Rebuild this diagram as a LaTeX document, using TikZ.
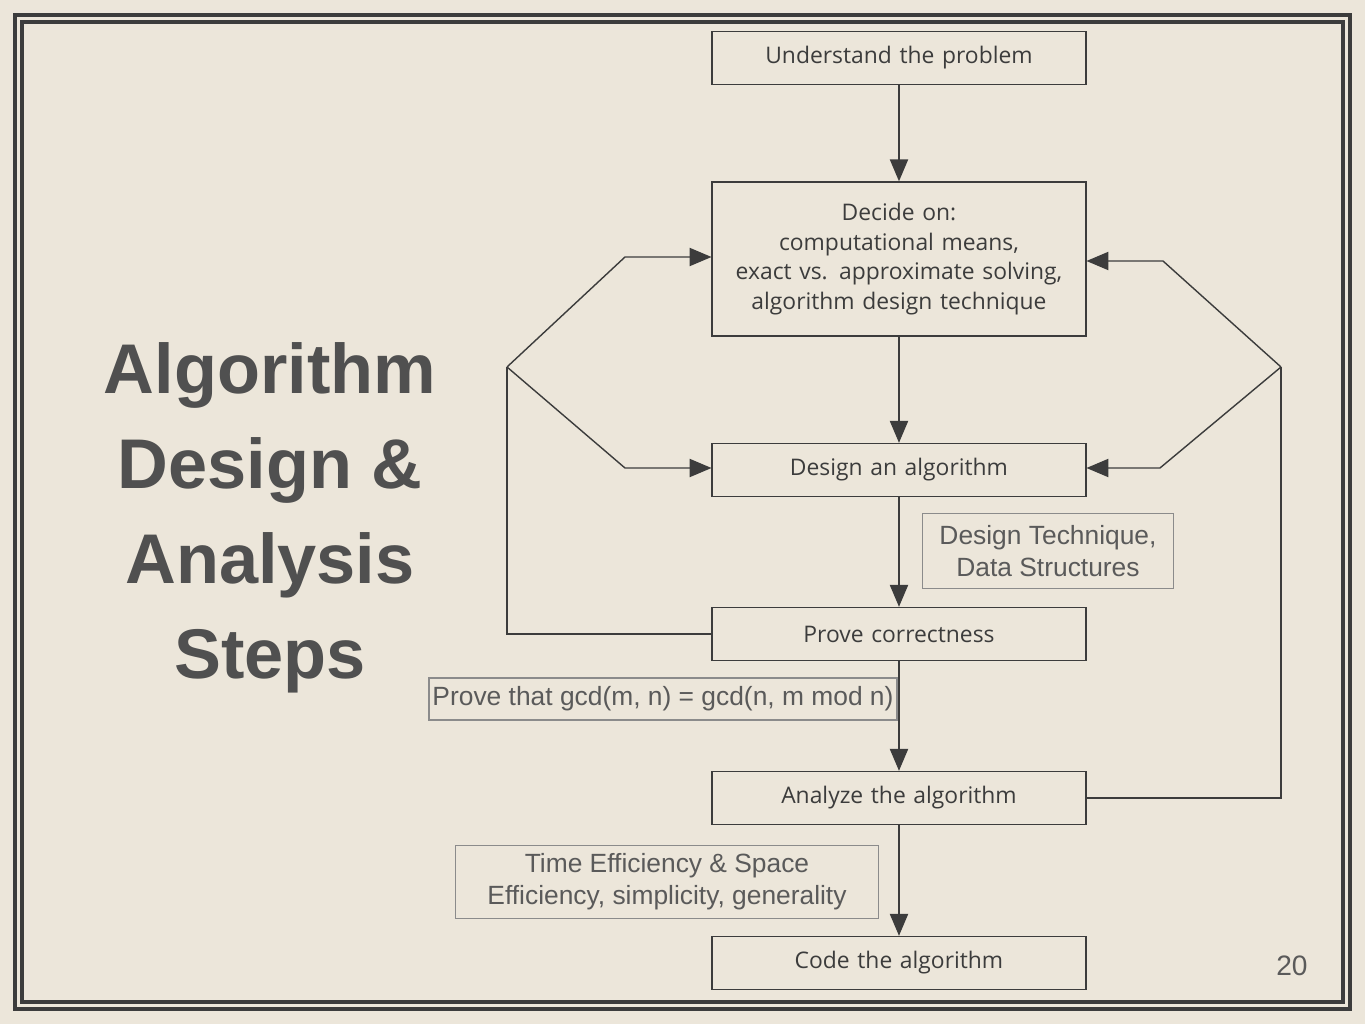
\documentclass[tikz,border=0pt]{standalone}
\usepackage{fontspec}
\setmainfont{Liberation Sans}
\newfontfamily\stepfont{Open Sans}
\usetikzlibrary{arrows,positioning}
\definecolor{paper}{RGB}{236,230,218}
\definecolor{ink}{RGB}{60,60,60}
\definecolor{note}{RGB}{90,90,90}
\begin{document}
\begin{tikzpicture}%
		[
			x=0.01cm, y=-0.01cm,
			stepbox/.style={
				draw=ink,
				fill=paper,
				minimum width=3.66cm,
				minimum height=0.53cm,
				text width=3.5cm,
				align=center,
				font={\stepfont\fontsize{6.5}{8.4}\selectfont},
				text=ink,
			},
			notebox/.style={draw=note!70, align=center, text=note, font={\fontsize{7.5}{9.2}\selectfont}, inner sep=1pt},
			arch/.style={-triangle 45, ink, thin},
			link/.style={ink, thin},
		]
		\fill[paper] (0,0) rectangle (1365,1024);
		\draw[ink, line width=1.2pt] (15,15) rectangle (1350,1009);
		\draw[ink, line width=1.2pt] (22,22) rectangle (1343,1002);
		
		\node[stepbox] (s0) at (899,58) {Understand the problem};
		\node[stepbox, minimum height=1.54cm] (s1) at (899,259) {Decide on:\\computational means,\\exact vs. approximate solving,\\algorithm design technique};
		\node[stepbox] (s2) at (899,470) {Design an algorithm};
		\node[stepbox] (s3) at (899,634) {Prove correctness};
		\node[stepbox] (s4) at (899,798) {Analyze the algorithm};
		\node[stepbox] (s5) at (899,963) {Code the algorithm};
		
		\draw[arch] (s0) -- (s1);
		\draw[arch] (s1) -- (s2);
		\draw[arch] (s2) -- (s3);
		\draw[arch] (s3) -- (s4);
		\draw[arch] (s4) -- (s5);
		
		% feedback from the lower steps
		\coordinate (lj) at (507,367);
		\coordinate (rj) at (1281,367);
		\draw[link] (s3.west) -| (lj);
		\draw[arch] (lj) -- (625,257) -- (s1.west |- 0,257);
		\draw[arch] (lj) -- (625,468) -- (s2.west |- 0,468);
		\draw[link] (s4.east) -| (rj);
		\draw[arch] (rj) -- (1163,261) -- (s1.east |- 0,261);
		\draw[arch] (rj) -- (1160,468) -- (s2.east |- 0,468);
		
		\node[notebox, minimum width=2.51cm, minimum height=0.75cm] (n0) at (1048,551) {Design Technique,\\Data Structures};
		\node[notebox, minimum width=4.45cm, minimum height=0.42cm] (n1) at (663,699) {Prove that gcd(m, n) = gcd(n, m mod n)};
		\node[notebox, minimum width=4.23cm, minimum height=0.73cm] (n2) at (667,882) {Time Efficiency \& Space\\Efficiency, simplicity, generality};
		
		\node[align=center, font={\bfseries\fontsize{20}{27}\selectfont}, text=ink!90] (title) at (270,518) {Algorithm\\Design \&\\Analysis\\Steps};
		\node[text=note, font=\fontsize{8}{10}\selectfont] (page) at (1292,966) {20};
	\end{tikzpicture}
\end{document}
